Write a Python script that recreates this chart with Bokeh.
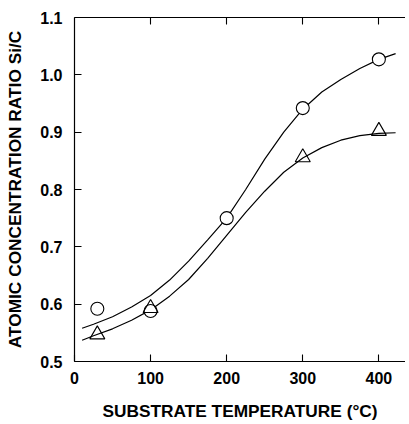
from bokeh.plotting import figure
from bokeh.models import LinearAxis, FixedTicker, Range1d, NumeralTickFormatter
from bokeh.embed import file_html
from bokeh.resources import INLINE

# measured points
circle_x = [30, 100, 200, 300, 400]
circle_y = [0.592, 0.588, 0.750, 0.942, 1.027]
tri_x = [30, 100, 300, 400]
tri_y = [0.547, 0.593, 0.856, 0.902]

# fitted curves
curve_x = [10, 25, 50, 75, 100, 125, 150, 175, 200, 225, 250, 275, 300, 325, 350, 375, 400, 422]
upper_y = [0.558, 0.565, 0.578, 0.595, 0.615, 0.642, 0.675, 0.712, 0.750, 0.800, 0.853, 0.900,
           0.940, 0.970, 0.992, 1.011, 1.027, 1.037]
lower_y = [0.537, 0.545, 0.557, 0.572, 0.590, 0.614, 0.643, 0.680, 0.720, 0.760, 0.797, 0.830,
           0.855, 0.873, 0.886, 0.894, 0.898, 0.899]

x_ticks = [0, 100, 200, 300, 400]
y_ticks = [0.5, 0.6, 0.7, 0.8, 0.9, 1.0, 1.1]
top_ticks = [100, 200, 300, 400]

FONT = "Liberation Sans"

p = figure(frame_width=331, frame_height=344, output_backend="svg", toolbar_location=None,
           x_range=Range1d(0, 435), y_range=Range1d(0.5, 1.1),
           min_border_left=74, min_border_right=0, min_border_top=17, min_border_bottom=5)
p.outline_line_color = None
p.grid.visible = False
p.background_fill_color = "white"

p.line(curve_x, upper_y, line_color="black", line_width=1.2)
p.line(curve_x, lower_y, line_color="black", line_width=1.2)
p.scatter(circle_x, circle_y, marker="circle", size=13, fill_color="white",
          line_color="black", line_width=1.1)
p.scatter(tri_x, tri_y, marker="triangle", size=15, fill_color="white", fill_alpha=0.0,
          line_color="black", line_width=1.1)

for ax in (p.xaxis[0], p.yaxis[0]):
    ax.major_tick_in = 7
    ax.major_tick_out = 0
    ax.minor_tick_in = 0
    ax.minor_tick_out = 0
    ax.axis_line_width = 1.2
    ax.major_tick_line_width = 1.1
    ax.major_label_text_font = FONT
    ax.major_label_text_font_style = "bold"
    ax.major_label_text_font_size = "16px"
    ax.major_label_text_color = "black"
    ax.axis_label_text_font = FONT
    ax.axis_label_text_font_style = "bold"
    ax.axis_label_text_font_size = "17.3px"
    ax.axis_label_text_color = "black"

p.xaxis[0].ticker = FixedTicker(ticks=x_ticks)
p.yaxis[0].ticker = FixedTicker(ticks=y_ticks)
p.yaxis[0].formatter = NumeralTickFormatter(format="0.0")
p.xaxis[0].axis_label = "SUBSTRATE TEMPERATURE (°C)"
p.yaxis[0].axis_label = "ATOMIC CONCENTRATION RATIO Si/C"
p.xaxis[0].major_label_standoff = 10
p.yaxis[0].major_label_standoff = 12
p.xaxis[0].axis_label_standoff = 14
p.yaxis[0].axis_label_standoff = 12

top = LinearAxis(ticker=FixedTicker(ticks=top_ticks))
top.major_tick_in = 7
top.major_tick_out = 0
top.minor_tick_in = 0
top.minor_tick_out = 0
top.axis_line_width = 1.2
top.major_tick_line_width = 1.1
top.major_label_overrides = {t: "" for t in top_ticks}
top.major_label_standoff = 0
top.major_label_text_font_size = "1px"
p.add_layout(top, "above")

open("out.html", "w").write(file_html(p, INLINE))
